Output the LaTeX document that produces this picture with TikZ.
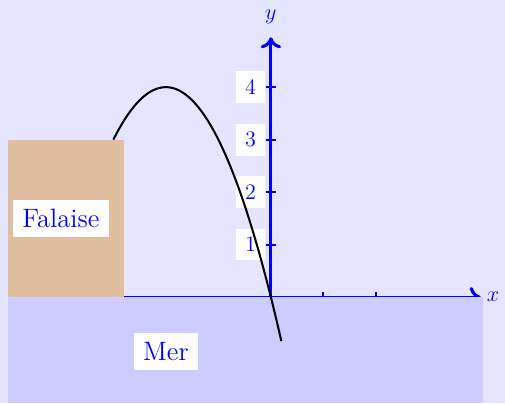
\documentclass[tikz,border=0pt]{standalone}
\usetikzlibrary{arrows.meta, positioning}

\begin{document}
\begin{tikzpicture}[
    axis/.style={
        blue,
        line width=1.7pt,
        -{To[length=6pt, width=11pt]}
    },
    tickmark/.style={
        blue,
        line width=1.1pt
    },
    ticklabel/.style={
        fill=white,
        text=blue,
        anchor=east,
        inner xsep=5pt,
        inner ysep=4.5pt,
        font=\large
    },
    axislabel/.style={
        text=blue,
        font=\large
    },
    tag/.style={
        fill=white,
        text=blue,
        inner sep=5pt,
        font=\Large
    }
]

% Background
\fill[blue!10] (-5.16,-2.02) rectangle (4.46,5.66);
\useasboundingbox (-5.16,-2.02) rectangle (4.46,5.66);

% Axes
\coordinate (xstart) at (-5,0);
\coordinate (xend) at (4,0);
\coordinate (origin) at (0,0);
\coordinate (yend) at (0,4.95);
\draw[axis] (xstart) -- (xend);
\draw[axis] (origin) -- (yend);
\node[axislabel, right=2pt of xend, inner xsep=1pt] (xlab) {$x$};
\node[axislabel, above=4pt of yend] (ylab) {$y$};

% Ticks
\foreach \x in {1,2}
    \draw[tickmark] (\x,-0.1) -- (\x,0.1);
\foreach \y in {1,...,4} {
    \draw[tickmark] (-0.1,\y) -- (0.1,\y);
    \node[ticklabel] (ty\y) at (-0.1,\y) {\y};
}

% Cliff and sea
\fill[brown!50] (-5,0) rectangle (-2.8,3);
\fill[blue!20] (-5,-2.02) rectangle (4.05,0);

% Trajectory
\draw[line width=1.1pt, domain=-3:0.2, smooth, samples=60] plot (\x, {4-(\x+2)^2});

% Labels
\node[tag] (falaise) at (-4,1.5) {Falaise};
\node[tag] (mer) at (-2,-1.04) {Mer};

\end{tikzpicture}
\end{document}
